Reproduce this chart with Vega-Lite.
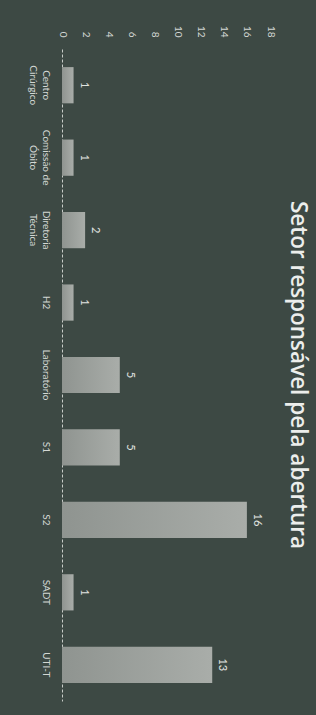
{
  "$schema": "https://vega.github.io/schema/vega-lite/v6.json",
  "autosize": "none",
  "width": 208,
  "height": 652,
  "padding": {"left": 62, "top": 49, "right": 46, "bottom": 14},
  "background": "#3d4944",
  "config": {
    "view": {"stroke": null},
    "font": "Lato",
    "axis": {"labelFont": "Lato", "labelColor": "#d4d8d4"}
  },
  "title": {
    "text": "Setor responsável pela abertura",
    "orient": "right",
    "anchor": "middle",
    "fontSize": 22.5,
    "fontWeight": 600,
    "font": "Open Sans",
    "color": "#eceeec",
    "offset": 11
  },
  "data": {
    "values": [
      {"setor": "Centro Cirúrgico", "n": 1},
      {"setor": "Comissão de Óbito", "n": 1},
      {"setor": "Diretoria Técnica", "n": 2},
      {"setor": "H2", "n": 1},
      {"setor": "Laboratório", "n": 5},
      {"setor": "S1", "n": 5},
      {"setor": "S2", "n": 16},
      {"setor": "SADT", "n": 1},
      {"setor": "UTI-T", "n": 13}
    ]
  },
  "encoding": {
    "y": {
      "field": "setor",
      "type": "nominal",
      "sort": null,
      "scale": {"paddingInner": 0.5, "paddingOuter": 0.25},
      "axis": {
        "title": null,
        "orient": "left",
        "labelAngle": 90,
        "labelAlign": "center",
        "labelBaseline": "top",
        "labelPadding": 12,
        "labelFontSize": 10,
        "labelLineHeight": 13,
        "ticks": false,
        "domain": true,
        "domainColor": "#c8ccc8",
        "domainDash": [3, 2],
        "domainWidth": 1,
        "labelExpr": "datum.label == 'Comissão de Óbito' ? ['Comissão de', 'Óbito'] : split(datum.label, ' ')"
      }
    },
    "x": {
      "field": "n",
      "type": "quantitative",
      "scale": {"domain": [0, 18], "nice": false},
      "axis": {
        "title": null,
        "orient": "top",
        "values": [0, 2, 4, 6, 8, 10, 12, 14, 16, 18],
        "labelAngle": 90,
        "labelAlign": "right",
        "labelBaseline": "middle",
        "labelPadding": 12,
        "labelFontSize": 10,
        "ticks": false,
        "domain": false,
        "grid": false
      }
    }
  },
  "layer": [
    {
      "mark": {
        "type": "bar",
        "color": {
          "gradient": "linear",
          "x1": 0, "y1": 0, "x2": 1, "y2": 0,
          "stops": [
            {"offset": 0, "color": "#8f9490"},
            {"offset": 1, "color": "#a9ada9"}
          ]
        }
      }
    },
    {
      "mark": {
        "type": "text",
        "angle": 90,
        "align": "center",
        "baseline": "bottom",
        "dy": -5,
        "fontSize": 11,
        "color": "#e0e3e0"
      },
      "encoding": {"text": {"field": "n", "type": "quantitative"}}
    }
  ]
}
